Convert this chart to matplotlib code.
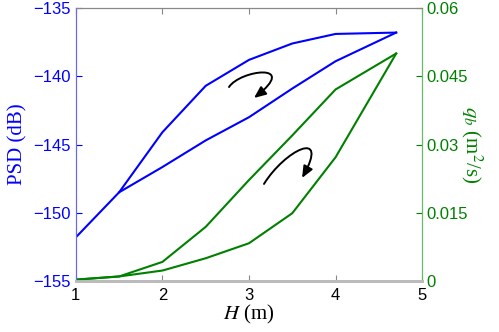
import matplotlib
matplotlib.use('Agg')
import matplotlib.pyplot as plt
from matplotlib.path import Path
from matplotlib.patches import FancyArrowPatch

# data
H = [1, 1.5, 2, 2.5, 3, 3.5, 4, 4.7]
psd_up = [-151.8, -148.5, -144.1, -140.7, -138.8, -137.6, -136.9, -136.8]
H_down = [4.7, 4, 3.5, 3, 2.5, 2, 1.5]
psd_down = [-136.8, -138.9, -140.9, -143.0, -144.7, -146.65, -148.5]
qb_up = [0.0003, 0.001, 0.0042, 0.0119, 0.0222, 0.032, 0.0421, 0.050]
qb_down = [0.050, 0.0272, 0.0149, 0.0083, 0.0050, 0.0023, 0.001, 0.0003]
H_qdown = [4.7, 4, 3.5, 3, 2.5, 2, 1.5, 1]

xticks = [1, 2, 3, 4, 5]
left_ticks = [-155, -150, -145, -140, -135]
right_ticks = [0, 0.015, 0.03, 0.045, 0.06]
right_labels = ['0', '0.015', '0.03', '0.045', '0.06']

blue = '#0000ff'
green = '#008000'

plt.rcParams['font.family'] = ['Liberation Sans', 'DejaVu Sans']
plt.rcParams['mathtext.fontset'] = 'stix'

fig = plt.figure(figsize=(4.99, 3.32), dpi=100)
ax = fig.add_axes([0.152, 0.1536, 0.694, 0.8223])
ax2 = ax.twinx()

ax.plot(H, psd_up, color=blue, lw=1.5)
ax.plot(H_down, psd_down, color=blue, lw=1.5)
ax2.plot(H, qb_up, color=green, lw=1.5)
ax2.plot(H_qdown, qb_down, color=green, lw=1.5)

ax.set_xlim(1, 5)
ax.set_ylim(-155, -135)
ax2.set_ylim(0, 0.06)
ax.set_xticks(xticks)
ax.set_xticklabels([str(v) for v in xticks])
ax.set_yticks(left_ticks)
ax.set_yticklabels(['\u2212%d' % abs(v) for v in left_ticks])
ax2.set_yticks(right_ticks)
ax2.set_yticklabels(right_labels)

ax.tick_params(axis='x', direction='in', length=4, color='#888888', labelsize=12,
               top=True, pad=5)
ax.tick_params(axis='y', direction='in', length=4, colors=blue, labelsize=12, pad=4)
ax2.tick_params(axis='y', direction='in', length=4, colors=green, labelsize=12, pad=3)

for a in (ax, ax2):
    a.spines['top'].set_color('#888888')
    a.spines['bottom'].set_color('#bbbbbb')
    a.spines['bottom'].set_linewidth(2)
    a.spines['left'].set_color('#6666ff')
    a.spines['right'].set_color('#66bb66')

ax.set_xlabel(r'$H$ (m)', family='Liberation Serif', fontsize=15, labelpad=0)
ax.set_ylabel('PSD (dB)', family='Liberation Serif', fontsize=15, color=blue, labelpad=4)
ax2.set_ylabel(r'$q_b$ (m$^2$/s)', family='Liberation Serif', fontsize=15, color=green,
               rotation=270, labelpad=12)

# curved arrows showing the loop direction
def curved_arrow(pts):
    path = Path(pts, [Path.MOVETO, Path.CURVE4, Path.CURVE4, Path.CURVE4])
    arr = FancyArrowPatch(path=path, arrowstyle='-|>,head_length=7,head_width=3',
                          color='black', lw=1.4, transform=ax.transData)
    ax.add_patch(arr)

curved_arrow([(2.769, -140.79), (2.896, -139.54), (3.59, -138.96), (3.058, -141.59)])
curved_arrow([(3.173, -147.89), (3.416, -145.40), (3.936, -143.79), (3.613, -147.45)])

fig.savefig('out.png', dpi=100)
